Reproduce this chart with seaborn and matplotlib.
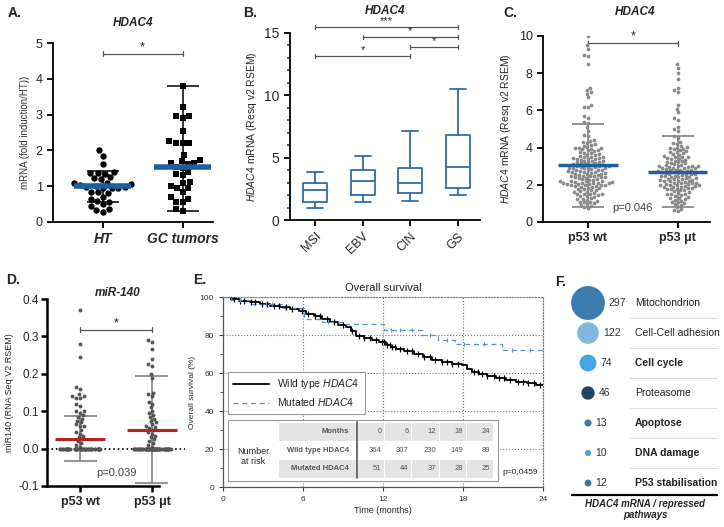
import numpy as np
import pandas as pd
import matplotlib
matplotlib.use("Agg")
import matplotlib.pyplot as plt
from matplotlib.patches import Rectangle
import seaborn as sns

# ---------------- data ----------------
# A. HDAC4 qPCR
a_groups = ["HT", "GC tumors"]
a_ht = [2.0, 1.85, 1.61, 1.4, 1.38, 1.36, 1.35, 1.25, 1.22, 1.2, 1.1, 1.08, 1.05,
        1.02, 1.0, 0.98, 0.97, 0.96, 0.95, 0.95, 0.85, 0.83, 0.8, 0.7, 0.65, 0.6,
        0.55, 0.5, 0.45, 0.35, 0.33, 0.28]
a_gc = [3.8, 3.2, 2.95, 2.95, 2.9, 2.55, 2.25, 2.2, 2.2, 2.2, 1.87, 1.72, 1.7,
        1.65, 1.65, 1.62, 1.55, 1.5, 1.4, 1.35, 1.3, 1.12, 1.1, 1.0, 0.95, 0.95,
        0.85, 0.7, 0.65, 0.57, 0.55, 0.35, 0.3]
a_means = [1.0, 1.55]
a_err_lo = [0.57, 0.3]
a_err_hi = [1.42, 3.8]

# B. HDAC4 by molecular subtype (box stats)
b_groups = ["MSI", "EBV", "CIN", "GS"]
b_whislo = [1.0, 1.45, 1.5, 2.0]
b_q1 = [1.45, 2.0, 2.2, 2.55]
b_med = [2.4, 3.1, 2.95, 4.25]
b_q3 = [3.0, 4.0, 4.2, 6.8]
b_whishi = [3.85, 5.15, 7.1, 10.5]
b_sig_from = [0, 1, 2, 0]
b_sig_to = [3, 3, 3, 2]
b_sig_y = [15.5, 14.7, 13.9, 13.15]
b_sig_text = ["***", "*", "*", "*"]

# C. HDAC4 vs p53 status
c_groups = ["p53 wt", "p53 μt"]
c_wt = [10.0, 9.5, 9.3, 9.0, 8.9, 8.5, 7.2, 7.1, 7.0, 6.9, 6.7, 6.3, 6.2, 6.2, 5.7,
        5.6, 5.4, 5.3, 5.1, 4.9, 4.7, 4.6, 4.4,
        4.35, 4.3, 4.25, 4.2, 4.15, 4.1, 4.05, 4.0, 4.0, 3.98,
        3.95, 3.9, 3.88, 3.85, 3.8, 3.75, 3.72, 3.7, 3.65, 3.6, 3.58, 3.55, 3.5, 3.5,
        3.48, 3.45, 3.42, 3.4, 3.4, 3.38, 3.35, 3.3, 3.3, 3.28, 3.25, 3.2, 3.2, 3.18,
        3.15, 3.1, 3.1, 3.08, 3.05, 3.0, 3.0, 3.0,
        2.98, 2.95, 2.95, 2.92, 2.9, 2.9, 2.88, 2.85, 2.82, 2.8, 2.8, 2.78, 2.75,
        2.72, 2.7, 2.7, 2.68, 2.65, 2.62, 2.6, 2.6, 2.58, 2.55, 2.52, 2.5, 2.5,
        2.48, 2.45, 2.42, 2.4, 2.4, 2.38, 2.35, 2.32, 2.3, 2.28, 2.25, 2.22, 2.2,
        2.2, 2.18, 2.15, 2.15, 2.12, 2.1, 2.1, 2.1, 2.08, 2.05, 2.05, 2.02, 2.0,
        2.0, 2.0,
        1.98, 1.95, 1.92, 1.9, 1.88, 1.85, 1.82, 1.8, 1.75, 1.72, 1.7, 1.65, 1.62,
        1.6, 1.55, 1.52, 1.5, 1.5,
        1.48, 1.45, 1.4, 1.38, 1.35, 1.3, 1.25, 1.22, 1.2, 1.15, 1.1, 1.08, 1.05, 1.0,
        0.95, 0.9, 0.85, 0.8, 0.75]
c_mut = [8.5, 8.3, 8.0, 7.7, 7.2, 7.1, 7.0, 6.3, 6.1, 5.9, 5.6, 5.5, 5.1, 5.0, 4.9,
         4.6, 4.5, 4.3,
         4.25, 4.2, 4.1, 4.05, 4.0, 4.0,
         3.95, 3.9, 3.85, 3.8, 3.78, 3.75, 3.7, 3.65, 3.6, 3.55, 3.5, 3.5,
         3.48, 3.45, 3.4, 3.38, 3.35, 3.3, 3.28, 3.25, 3.2, 3.18, 3.15, 3.1, 3.08,
         3.05, 3.0, 3.0, 3.0, 3.0,
         2.98, 2.95, 2.92, 2.9, 2.9, 2.88, 2.85, 2.82, 2.8, 2.8, 2.78, 2.75, 2.72,
         2.7, 2.7, 2.68, 2.65, 2.62, 2.6, 2.6, 2.58, 2.55, 2.52, 2.5,
         2.48, 2.45, 2.42, 2.4, 2.4, 2.38, 2.35, 2.32, 2.3, 2.3, 2.28, 2.25, 2.22,
         2.2, 2.2, 2.18, 2.15, 2.12, 2.1, 2.1, 2.08, 2.05, 2.02, 2.0, 2.0, 2.0,
         1.98, 1.95, 1.92, 1.9, 1.9, 1.88, 1.85, 1.82, 1.8, 1.78, 1.75, 1.72, 1.7,
         1.65, 1.6, 1.55, 1.52, 1.5,
         1.48, 1.45, 1.4, 1.35, 1.3, 1.28, 1.25, 1.2, 1.15, 1.1, 1.05, 1.0,
         0.95, 0.9, 0.8, 0.7, 0.65, 0.6]
c_means = [3.05, 2.7]
c_err_lo = [0.82, 0.8]
c_err_hi = [5.28, 4.6]

# D. miR-140 vs p53 status
d_groups = ["p53 wt", "p53 μt"]
d_wt = [0.37, 0.28, 0.245, 0.165, 0.16, 0.145, 0.14, 0.14, 0.135, 0.135, 0.12,
        0.115, 0.1, 0.1, 0.095, 0.09, 0.085, 0.08, 0.075, 0.07, 0.065, 0.06, 0.06,
        0.05, 0.045, 0.04, 0.035, 0.03, 0.025, 0.02, 0.015, 0.01, 0.005]
d_mut = [0.29, 0.285, 0.265, 0.24, 0.225, 0.22, 0.2, 0.19, 0.15, 0.145, 0.14,
         0.125, 0.12, 0.11, 0.1, 0.095, 0.09, 0.085, 0.08, 0.075, 0.07, 0.065,
         0.06, 0.058, 0.055, 0.05, 0.045, 0.04, 0.035, 0.03, 0.025, 0.02, 0.015,
         0.01, 0.005]
d_zero_counts = [45, 60]
d_means = [0.027, 0.05]
d_err_lo = [-0.033, -0.092]
d_err_hi = [0.087, 0.193]

# E. Kaplan-Meier
e_wt_t = [0, 0.6, 1.2, 2.0, 2.8, 3.5, 4.3, 5.0, 5.7, 6.2, 6.8, 7.4, 8.0, 8.6, 9.2,
          9.6, 10.0, 10.6, 11.2, 11.7, 12.2, 12.6, 13.0, 13.6, 14.3, 15.0, 15.7,
          16.4, 17.2, 17.9, 18.3, 18.7, 19.2, 19.8, 20.5, 21.2, 22.0, 22.8, 23.5]
e_wt_s = [100, 99, 98, 97.3, 96.5, 95.5, 94.5, 93.5, 92.5, 91, 89.8, 88.5, 87,
          85.5, 84, 82, 79.5, 78.5, 77.5, 76.3, 74.5, 73.5, 72.5, 71.5, 70,
          68.5, 67, 66, 65, 64, 62, 60.3, 59.5, 58.5, 57.5, 56.5, 55.5, 54.5, 53.5]
e_wt_cens = [0.5, 0.8, 1.3, 1.6, 2.1, 2.4, 2.9, 3.3, 3.8, 4.2, 4.7, 5.2, 5.9, 6.4,
             6.9, 7.3, 7.8, 8.3, 9.0, 9.7, 10.2, 10.6, 11.0, 11.5, 11.9, 12.1,
             12.3, 12.5, 12.7, 12.9, 13.3, 13.8, 14.2, 14.6, 15.1, 15.5, 15.9,
             16.4, 16.8, 17.2, 17.6, 18.8, 19.1, 19.4, 19.8, 20.3, 20.7, 21.1,
             21.5, 22.1, 22.5, 22.9, 23.3, 23.8]
e_mut_t = [0, 0.6, 2.1, 4.4, 6.1, 7.4, 9.0, 12.1, 14.9, 16.1, 17.4, 20.9]
e_mut_s = [100, 98.3, 96.5, 94.4, 88.5, 87, 86, 82.5, 80, 77.6, 75.5, 72.3]
e_mut_cens = [1.3, 3.2, 3.7, 7.9, 12.6, 13.3, 14.2, 15.5, 16.8, 18.1, 19.6, 21.7, 23.0]
e_months = [0, 6, 12, 18, 24]
e_risk_wt = [364, 307, 230, 149, 89]
e_risk_mut = [51, 44, 37, 28, 25]

# F. repressed pathways
f_counts = [297, 122, 74, 46, 13, 10, 12]
f_labels = ["Mitochondrion", "Cell-Cell adhesion", "Cell cycle", "Proteasome",
            "Apoptose", "DNA damage", "P53 stabilisation"]
f_bold = [False, False, True, False, True, True, True]
f_colors = ["#3b7cb0", "#82b8df", "#45a5e0", "#1e4766", "#417a9f", "#5b9ccc", "#2e78b5"]

# ---------------- style ----------------
sns.set_style("ticks")
plt.rcParams["font.family"] = ["Liberation Sans", "DejaVu Sans"]
plt.rcParams["mathtext.fontset"] = "custom"
plt.rcParams["mathtext.rm"] = "Liberation Sans"
plt.rcParams["mathtext.it"] = "Liberation Sans:italic"
plt.rcParams["mathtext.bf"] = "Liberation Sans:bold"
plt.rcParams["xtick.direction"] = "out"
plt.rcParams["ytick.direction"] = "out"

W, H = 724, 527
fig = plt.figure(figsize=(W / 100, H / 100), dpi=100)


def add_ax(left, top, right, bottom):
    return fig.add_axes([left / W, 1 - bottom / H, (right - left) / W, (bottom - top) / H])


def ftext(x, y, s, **kw):
    fig.text(x / W, 1 - y / H, s, **kw)


def bracket(ax, x1, x2, y, tick, text, fs=9, color="#555555"):
    kw = dict(color=color, lw=0.9, clip_on=False)
    ax.plot([x1, x2], [y, y], **kw)
    ax.plot([x1, x1], [y - tick, y + tick], **kw)
    ax.plot([x2, x2], [y - tick, y + tick], **kw)
    ax.text((x1 + x2) / 2, y + tick * 0.3, text, ha="center", va="bottom",
            fontsize=fs, color="#222222")


def mean_sd(ax, means, lo, hi, mean_w, cap_w, mean_color, err_color, mean_lw=3):
    for i in range(len(means)):
        ax.vlines(i, lo[i], hi[i], color=err_color, lw=1.1, zorder=1)
        ax.hlines([lo[i], hi[i]], i - cap_w, i + cap_w, color=err_color, lw=1.1, zorder=1)
        ax.hlines(means[i], i - mean_w, i + mean_w, color=mean_color, lw=mean_lw, zorder=5)


def style_axis(ax, lw=1.3):
    sns.despine(ax=ax)
    for s in ["left", "bottom"]:
        ax.spines[s].set_linewidth(lw)
        ax.spines[s].set_color("black")
    ax.tick_params(width=lw, length=4, color="black")


# ---------------- A ----------------
ax = add_ax(53, 43, 213, 222)
df_a = pd.DataFrame({"group": ["HT"] * len(a_ht) + ["GC tumors"] * len(a_gc),
                     "value": a_ht + a_gc})
mean_sd(ax, a_means, a_err_lo, a_err_hi, 0.36, 0.2, "#1f5f9e", "black", mean_lw=4)
sns.swarmplot(data=df_a[df_a.group == "HT"], x="group", y="value", order=a_groups,
              marker="o", color="black", size=4.6, ax=ax, zorder=3)
sns.swarmplot(data=df_a[df_a.group == "GC tumors"], x="group", y="value", order=a_groups,
              marker="s", color="black", size=4.6, ax=ax, zorder=3)
ax.set_xlim(-0.62, 1.38)
ax.set_ylim(0, 5)
ax.set_yticks(range(6))
ax.set_xlabel("")
ax.set_ylabel("mRNA (fold induction/HT))", fontsize=7, color="#333333")
ax.tick_params(axis="y", labelsize=9)
ax.set_xticks([0, 1])
ax.set_xticklabels(a_groups, fontsize=10, fontweight="bold", style="italic")
style_axis(ax)
bracket(ax, 0, 1, 4.7, 0.07, "*")
ax.set_title("HDAC4", fontsize=8.5, fontweight="bold", style="italic", pad=12)

# ---------------- B ----------------
ax = add_ax(290, 33, 480, 220)
b_color = "#2e6da4"
stats = [dict(whislo=b_whislo[i], q1=b_q1[i], med=b_med[i], q3=b_q3[i],
              whishi=b_whishi[i], fliers=[], label=b_groups[i]) for i in range(4)]
lp = dict(color=b_color, lw=1.3)
ax.bxp(stats, positions=range(4), widths=0.5, capwidths=0.34, showfliers=False,
       boxprops=lp, whiskerprops=lp, capprops=lp, medianprops=lp)
ax.set_xlim(-0.53, 3.47)
ax.set_ylim(0, 15)
ax.set_yticks([0, 5, 10, 15])
ax.set_yticks(range(16), minor=True)
ax.tick_params(axis="y", labelsize=10)
ax.tick_params(axis="y", which="minor", length=2.5, width=1.1)
ax.set_xticks(range(4))
ax.set_xticklabels(b_groups, rotation=45, ha="right", rotation_mode="anchor", fontsize=9)
ax.set_ylabel(r"$\mathit{HDAC4}$ mRNA (Resq v2 RSEM)", fontsize=7.5)
style_axis(ax)
for i in range(4):
    bracket(ax, b_sig_from[i], b_sig_to[i], b_sig_y[i], 0.15, b_sig_text[i], fs=8)
ftext(385, 11, "HDAC4", ha="center", va="center", fontsize=8.5, fontweight="bold", style="italic")

# ---------------- C ----------------
ax = add_ax(543, 36, 710, 222)
df_c = pd.DataFrame({"group": [c_groups[0]] * len(c_wt) + [c_groups[1]] * len(c_mut),
                     "value": c_wt + c_mut})
mean_sd(ax, c_means, c_err_lo, c_err_hi, 0.33, 0.18, "#1f5fa0", "#777777", mean_lw=2.5)
sns.swarmplot(data=df_c, x="group", y="value", order=c_groups, color="#8a8a8a",
              size=2.7, ax=ax, zorder=3)
ax.set_xlim(-0.5, 1.36)
ax.set_ylim(0, 10)
ax.set_yticks(range(0, 11, 2))
ax.tick_params(axis="y", labelsize=9)
ax.set_xlabel("")
ax.set_ylabel(r"$\mathit{HDAC4}$ mRNA (Resq v2 RSEM)", fontsize=7.5)
ax.set_xticks([0, 1])
ax.set_xticklabels(c_groups, fontsize=9, fontweight="bold")
style_axis(ax)
bracket(ax, 0, 1, 9.6, 0.12, "*")
ax.text(0.5, 0.75, "p=0.046", ha="center", va="center", fontsize=8, color="#444444")
ftext(635, 12, "HDAC4", ha="center", va="center", fontsize=8.5, fontweight="bold", style="italic")

# ---------------- D ----------------
ax = add_ax(47, 299, 185, 486)
df_d = pd.DataFrame({"group": [d_groups[0]] * len(d_wt) + [d_groups[1]] * len(d_mut),
                     "value": d_wt + d_mut})
df_d0 = pd.DataFrame({"group": [d_groups[0]] * d_zero_counts[0] + [d_groups[1]] * d_zero_counts[1],
                      "value": [0.0] * (d_zero_counts[0] + d_zero_counts[1])})
ax.axhline(0, color="black", ls=":", lw=1.2, zorder=0)
mean_sd(ax, d_means, d_err_lo, d_err_hi, 0.35, 0.23, "#b52020", "#777777", mean_lw=2.2)
np.random.seed(4)
sns.stripplot(data=df_d0, x="group", y="value", order=d_groups, color="#555555",
              size=2.8, jitter=0.28, ax=ax, zorder=3)
sns.swarmplot(data=df_d, x="group", y="value", order=d_groups, color="#555555",
              size=2.8, ax=ax, zorder=3)
ax.set_xlim(-0.46, 1.46)
ax.set_ylim(-0.1, 0.4)
ax.set_yticks([-0.1, 0.0, 0.1, 0.2, 0.3, 0.4])
ax.set_yticklabels(["-0.1", "0.0", "0.1", "0.2", "0.3", "0.4"])
ax.tick_params(axis="y", labelsize=8.5, pad=2)
ax.set_xlabel("")
ax.set_ylabel("miR140 (RNA Seq V2 RSEM)", fontsize=6.5, labelpad=3)
ax.set_xticks([0, 1])
ax.set_xticklabels(d_groups, fontsize=9, fontweight="bold")
style_axis(ax, lw=1.8)
ax.spines["bottom"].set_bounds(-0.46, 1.1)
bracket(ax, 0, 1, 0.318, 0.006, "*")
ax.text(0.5, -0.065, "p=0.039", ha="center", va="center", fontsize=8, color="#444444")
ftext(118, 293, "miR-140", ha="center", va="center", fontsize=8.5, fontweight="bold", style="italic")

# ---------------- E ----------------
ax = add_ax(223, 297, 543, 487)
ax.grid(True, ls=":", color="#777777", lw=0.8)
wt_line, = ax.step(e_wt_t + [24], e_wt_s + [e_wt_s[-1]], where="post", color="black",
                   lw=1.3, label=r"Wild type $\mathit{HDAC4}$")
mut_line, = ax.step(e_mut_t + [24], e_mut_s + [e_mut_s[-1]], where="post",
                    color="#5b8fd0", lw=0.9, ls=(0, (4, 3)), label=r"Mutated $\mathit{HDAC4}$")
wt_cy = [e_wt_s[np.searchsorted(e_wt_t, c, side="right") - 1] for c in e_wt_cens]
mut_cy = [e_mut_s[np.searchsorted(e_mut_t, c, side="right") - 1] for c in e_mut_cens]
ax.plot(e_wt_cens, wt_cy, "|", color="black", ms=5, mew=0.9)
ax.plot(e_mut_cens, mut_cy, "|", color="#5b8fd0", ms=3, mew=0.7)
ax.set_xlim(0, 24)
ax.set_ylim(0, 100)
ax.set_xticks(e_months)
ax.set_yticks(range(0, 101, 20))
ax.set_yticks(range(0, 101, 10), minor=True)
ax.tick_params(labelsize=6, length=3, color="#444444", labelcolor="#333333")
ax.tick_params(which="minor", length=2, color="#444444")
ax.set_xlabel("Time (months)", fontsize=6.5, labelpad=2)
ax.set_ylabel("Overall survival (%)", fontsize=6, labelpad=3)
ax.set_title("Overall survival", fontsize=8, pad=4)
for s in ["left", "bottom"]:
    ax.spines[s].set_color("#555555")
    ax.spines[s].set_linewidth(0.9)
for s in ["top", "right"]:
    ax.spines[s].set_linestyle(":")
    ax.spines[s].set_color("#777777")
leg = ax.legend(handles=[wt_line, mut_line], loc="upper left", bbox_to_anchor=(0.016, 0.605),
                fontsize=7.5, frameon=True, fancybox=False, edgecolor="#999999",
                handlelength=3.4, borderaxespad=0, framealpha=1, borderpad=0.5)
leg.get_frame().set_linewidth(0.8)
leg.set_zorder(6)
ax.add_patch(Rectangle((0.016, 0.03), 0.844, 0.323, transform=ax.transAxes,
                       fc="white", ec="#999999", lw=0.8, zorder=4))
rows = [["Months"] + [str(m) for m in e_months],
        ["Wild type HDAC4"] + [str(v) for v in e_risk_wt],
        ["Mutated HDAC4"] + [str(v) for v in e_risk_mut]]
cell_colors = [["#e4e4e4"] * 6, ["white"] * 6, ["#e4e4e4"] * 6]
tbl = ax.table(cellText=rows, cellColours=cell_colors, colWidths=[0.247] + [0.085] * 5,
               bbox=[0.172, 0.047, 0.672, 0.295], cellLoc="right", zorder=5)
tbl.auto_set_font_size(False)
tbl.set_fontsize(5.5)
for (r, c), cell in tbl.get_celld().items():
    cell.set_edgecolor("white")
    cell.set_linewidth(0.8)
    cell.get_text().set_color("#555555")
    if c == 0:
        cell.get_text().set_fontweight("bold")
ax.plot([0.419, 0.419], [0.047, 0.342], transform=ax.transAxes, color="#555555",
        lw=1.2, zorder=7)
ax.text(0.094, 0.16, "Number\nat risk", transform=ax.transAxes, ha="center", va="center",
        fontsize=6.5, zorder=7, linespacing=1.1)
ax.text(0.985, 0.075, "p=0,0459", transform=ax.transAxes, ha="right", va="center",
        fontsize=6, zorder=7)

# ---------------- F ----------------
ax = add_ax(557, 275, 724, 527)
ax.set_xlim(557, 724)
ax.set_ylim(527, 275)
ax.axis("off")
row_y = [303 + 30 * i for i in range(len(f_counts))]
sizes = [2.0 * c for c in f_counts]
ax.scatter([588] * len(f_counts), row_y, s=sizes, c=f_colors, edgecolors="none")
for i, (cnt, lab) in enumerate(zip(f_counts, f_labels)):
    r_px = np.sqrt(sizes[i]) / 2 * 100 / 72
    ax.text(588 + r_px + 4, row_y[i], str(cnt), ha="left", va="center", fontsize=7.5,
            color="#333333")
    ax.text(635, row_y[i], lab, ha="left", va="center", fontsize=7.5,
            fontweight="bold" if f_bold[i] else "normal", color="#222222")
for i in range(len(f_counts) - 1):
    ax.plot([630, 717], [row_y[i] + 15] * 2, color="#dddddd", lw=0.8)
ax.plot([572, 717], [495, 495], color="black", lw=1.6)
ax.text(645, 499, "HDAC4 mRNA / repressed\npathways", ha="center", va="top",
        fontsize=7, fontweight="bold", style="italic", linespacing=1.1)

# ---------------- panel letters ----------------
for x, y, s in [(8, 13, "A."), (243, 13, "B."), (503, 13, "C."), (6, 280, "D."),
                (193, 280, "E."), (555, 282, "F.")]:
    ftext(x, y, s, ha="left", va="center", fontsize=10, fontweight="bold")

fig.savefig("out.png", dpi=100)
